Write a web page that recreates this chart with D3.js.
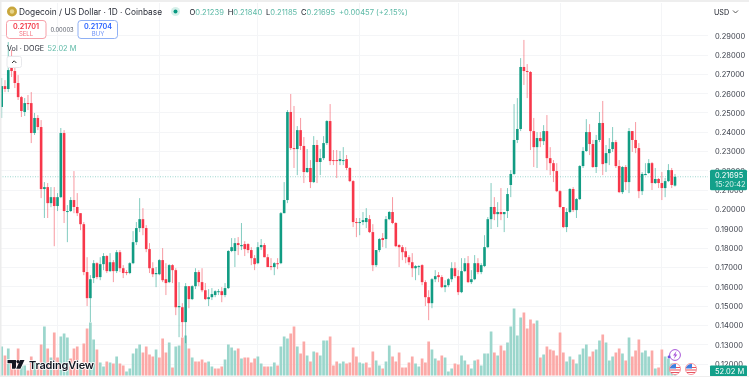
<!DOCTYPE html>
<html><head><meta charset="utf-8">
<script src="https://cdn.jsdelivr.net/npm/d3@7"></script>
<style>
html,body{margin:0;padding:0;background:#fff;overflow:hidden}
svg{display:block;font-family:Inter,"Liberation Sans",sans-serif;filter:blur(.35px)}
</style></head><body><svg id="c" width="749" height="377"></svg>
<script>
// Prices are in ten-thousandths of a dollar; volumes in millions of DOGE.
const opens=[2531,2639,2624,2733,2717,2655,2582,2505,2551,2551,2396,2474,2427,2106,2116,2033,2064,2018,2064,2396,1987,1992,2049,2013,1981,1924,1676,1541,1645,1722,1650,1717,1759,1681,1727,1681,1779,1696,1676,1671,1722,1831,1904,1950,1904,1795,1696,1665,1665,1738,1639,1624,1712,1686,1494,1494,1417,1603,1536,1603,1676,1624,1582,1536,1546,1557,1572,1577,1557,1593,1785,1785,1826,1810,1821,1821,1790,1748,1722,1805,1816,1753,1707,1702,1722,1722,1981,2049,2505,2318,2313,2411,2329,2194,2215,2142,2334,2246,2266,2344,2458,2256,2256,2251,2251,2261,2215,2147,1935,1930,1935,1935,1950,1883,1712,1790,1852,1847,1950,1987,1930,1816,1805,1784,1753,1727,1696,1702,1712,1624,1546,1515,1639,1660,1650,1598,1608,1639,1696,1655,1572,1681,1722,1624,1639,1722,1676,1707,1805,1950,2013,1976,1987,1976,1992,2127,2184,2360,2417,2738,2717,2712,2406,2323,2370,2354,2406,2266,2240,2199,2095,2013,1909,1987,2106,1997,2054,2225,2303,2401,2339,2220,2360,2448,2240,2292,2313,2349,2225,2090,2220,2142,2406,2360,2318,2095,2178,2189,2240,2137,2158,2137,2111,2147,2204,2123.9];
const closes=[2639,2624,2722,2717,2655,2582,2510,2551,2546,2396,2474,2427,2106,2116,2033,2064,2018,2064,2396,1992,1992,2049,2013,1981,1924,1676,1541,1639,1722,1650,1717,1759,1681,1727,1681,1779,1696,1671,1671,1722,1831,1904,1950,1904,1795,1696,1665,1671,1738,1634,1619,1712,1686,1494,1500,1417,1603,1536,1603,1676,1624,1582,1536,1546,1562,1577,1577,1557,1593,1785,1805,1826,1816,1816,1795,1790,1748,1717,1805,1816,1753,1702,1702,1722,1717,1981,2049,2505,2318,2313,2411,2329,2194,2215,2142,2334,2246,2266,2344,2458,2251,2251,2251,2261,2256,2215,2147,1935,1930,1935,1945,1956,1883,1712,1790,1847,1842,1950,1987,1930,1810,1805,1779,1753,1727,1696,1707,1707,1624,1546,1515,1639,1655,1650,1598,1608,1639,1696,1655,1572,1681,1722,1624,1639,1722,1676,1712,1805,1950,2013,1976,1987,1976,1987,2080,2184,2360,2417,2738,2717,2712,2406,2323,2370,2354,2406,2266,2240,2199,2095,2013,1909,1987,2106,1997,2054,2225,2303,2401,2339,2220,2360,2448,2235,2292,2313,2349,2225,2090,2220,2142,2406,2360,2318,2095,2184,2184,2240,2137,2158,2137,2111,2147,2204,2127,2169.5];
const highs=[2681,2670,2867,2826,2759,2696,2588,2577,2593,2608,2500,2489,2463,2142,2137,2116,2116,2085,2422,2411,2023,2064,2199,2085,1981,1935,1753,1660,1738,1727,1753,1774,1764,1774,1738,1790,1790,1712,1686,1727,1888,1935,2059,2007,1919,1826,1727,1702,1743,1800,1722,1717,1717,1696,1624,1515,1619,1603,1608,1696,1686,1696,1619,1588,1593,1582,1588,1598,1619,1790,1852,1852,1857,1930,1836,1826,1805,1764,1831,1847,1826,1769,1748,1727,1748,1987,2142,2515,2598,2536,2432,2474,2375,2313,2256,2380,2360,2313,2380,2463,2546,2308,2308,2303,2323,2282,2220,2152,1956,1956,1987,2007,1971,1924,1790,1852,1878,1966,1992,2064,1935,1821,1816,1805,1764,1774,1712,1712,1717,1634,1582,1645,1686,1676,1660,1634,1645,1727,1727,1686,1748,1748,1759,1686,1764,1748,1722,1867,1961,2137,2064,2038,2111,1987,2111,2204,2546,2577,2784,2878,2753,2717,2474,2401,2401,2437,2489,2323,2256,2240,2101,2013,2007,2111,2116,2059,2230,2323,2468,2442,2360,2386,2505,2562,2334,2370,2427,2360,2256,2225,2230,2422,2406,2453,2344,2194,2240,2261,2246,2215,2163,2194,2163,2235,2215,2184];
const lows=[2474,2608,2608,2686,2629,2567,2479,2484,2515,2344,2386,2411,2059,1956,1956,2012,1810,1992,2059,1930,1831,1987,1981,1966,1893,1660,1500,1417,1619,1639,1634,1686,1671,1676,1624,1671,1676,1645,1660,1665,1717,1816,1883,1867,1779,1671,1650,1598,1660,1624,1557,1619,1619,1453,1339,1339,1308,1489,1531,1588,1603,1572,1531,1500,1531,1546,1557,1520,1546,1588,1779,1702,1764,1790,1759,1774,1712,1686,1717,1790,1753,1702,1686,1660,1691,1717,1981,2033,2308,2215,2178,2308,2137,2189,2111,2137,2137,2178,2256,2334,2230,2230,2163,2230,2230,2204,2142,1909,1857,1867,1919,1904,1878,1681,1702,1779,1805,1800,1945,1924,1805,1702,1738,1722,1712,1650,1634,1660,1608,1500,1427,1489,1624,1624,1593,1572,1598,1624,1645,1557,1567,1676,1619,1614,1634,1665,1665,1702,1800,1899,1945,1909,1945,1883,1956,2064,2178,2344,2406,2645,2577,2308,2220,2215,2323,2334,2204,2178,2142,2090,2007,1904,1883,1981,1987,1956,2049,2215,2298,2282,2215,2189,2349,2178,2194,2230,2298,2215,2085,2080,2101,2085,2298,2292,2059,2075,2178,2184,2101,2132,2111,2049,2064,2142,2111,2118.5];
const volumes=[290,200,270,150,130,270,110,100,50,190,150,100,310,490,270,180,430,180,390,420,380,170,270,290,120,320,470,530,360,260,130,90,140,130,120,190,120,100,40,70,220,270,310,230,290,210,190,260,180,370,230,330,80,290,300,380,400,270,180,140,140,160,130,140,90,70,70,90,160,310,280,250,270,170,180,180,
130,170,190,120,90,90,90,130,100,290,390,370,420,490,290,220,340,200,140,240,230,200,350,350,390,100,140,120,140,120,130,280,190,130,120,130,80,240,150,100,70,140,300,190,140,230,80,80,130,190,120,90,170,130,340,260,170,150,200,180,40,70,120,110,200,150,110,70,150,160,100,220,220,440,230,200,
300,250,330,490,670,400,580,630,470,560,520,550,180,210,290,260,250,200,430,230,140,190,160,120,210,270,310,190,240,260,350,410,330,150,190,230,270,220,150,380,190,250,360,230,250,190,250,70,80,260,190,170,120,52.02];
const volumeUp=[1,0,1,0,0,0,1,1,0,0,1,0,0,1,0,1,0,0,1,1,1,0,0,0,1,0,0,1,1,0,1,1,0,1,0,1,0,0,1,1,1,1,1,0,0,0,0,1,0,0,0,1,0,1,1,0,1,0,1,0,0,0,0,1,1,0,0,0,1,1,1,1,0,1,0,0,
0,0,1,1,0,0,1,1,0,1,1,1,0,0,1,0,0,1,0,1,0,1,1,1,0,0,0,1,1,0,0,0,0,1,1,0,0,0,1,1,0,1,1,0,0,0,0,0,0,0,1,1,0,0,0,1,1,0,0,1,1,1,0,0,1,1,0,1,1,0,1,1,1,1,0,1,
0,0,1,1,1,1,1,0,0,0,0,1,0,1,0,0,0,0,0,0,1,1,0,1,1,1,1,0,0,1,1,0,1,1,1,0,0,1,0,1,0,0,0,1,1,1,0,1,0,0,1,1,1,1];
const priceTicks=[0.29,0.28,0.27,0.26,0.25,0.24,0.23,0.22,0.21,0.20,0.19,0.18,0.17,0.16,0.15,0.14,0.13,0.12];
const monthStarts=[17,48,78,109,139,170,201];
const ohlcLabels=["O","H","L","C"];
const ohlcValues=["0.21239","0.21840","0.21185","0.21695"];
const changeText="+0.00457 (+2.15%)";
const lastPrice=0.21695, lastVolume=52.02;

const UP="#089981",DOWN="#f23645",UPV="#9bd6cc",DOWNV="#fba9a7",TXT="#131722",VAL="#5cb9a6";
const svg=d3.select("#c");
const x=d3.scaleLinear().domain([0,205]).range([1.7,675]);
const y=d3.scaleLinear().domain([0.29,0.12]).range([35.7,364]);
const yv=d3.scaleLinear().domain([0,700]).range([375.5,305.5]);
const candles=d3.range(opens.length).map(i=>({i,o:opens[i]/1e4,h:highs[i]/1e4,l:lows[i]/1e4,c:closes[i]/1e4,up:closes[i]>=opens[i]}));

svg.append("rect").attr("width",749).attr("height",377).attr("fill","#fff");
const grid=svg.append("g").attr("stroke","#f4f5f7").attr("stroke-width",1).attr("shape-rendering","crispEdges");
grid.selectAll(".h").data(priceTicks).join("line").attr("x1",0).attr("x2",708).attr("y1",d=>y(d)).attr("y2",d=>y(d));
grid.selectAll(".v").data(monthStarts).join("line").attr("x1",d=>x(d)).attr("x2",d=>x(d)).attr("y1",3).attr("y2",377);

svg.append("g").selectAll("rect").data(volumes).join("rect")
 .attr("x",(d,i)=>x(i)-1.35).attr("width",2.7).attr("y",d=>yv(d)).attr("height",d=>yv(0)-yv(d))
 .attr("fill",(d,i)=>volumeUp[i]?UPV:DOWNV);

svg.append("line").attr("x1",0).attr("x2",708).attr("y1",y(lastPrice)).attr("y2",y(lastPrice))
 .attr("stroke","#089981").attr("stroke-opacity",.4).attr("stroke-dasharray","1 1.5");

const cg=svg.append("g");
cg.selectAll("line").data(candles).join("line")
 .attr("x1",d=>x(d.i)).attr("x2",d=>x(d.i)).attr("y1",d=>y(d.h)).attr("y2",d=>y(d.l))
 .attr("stroke",d=>d.up?UP:DOWN).attr("stroke-width",1).attr("stroke-opacity",.5);
cg.selectAll("rect").data(candles).join("rect")
 .attr("x",d=>x(d.i)-1.3).attr("width",2.6)
 .attr("y",d=>y(Math.max(d.o,d.c))).attr("height",d=>Math.max(1,y(Math.min(d.o,d.c))-y(Math.max(d.o,d.c))))
 .attr("fill",d=>d.up?"#119c83":"#f7374a");

const axis=d3.axisRight(y).tickValues(priceTicks).tickSize(0).tickPadding(0).tickFormat(d3.format(".5f"));
const ag=svg.append("g").attr("transform","translate(715,0)").call(axis);
ag.select(".domain").remove();
ag.selectAll("text").attr("font-size",7.5).attr("font-family","Inter,sans-serif").attr("fill","#3b3f4a");

svg.append("rect").attr("x",710).attr("y",y(lastPrice)-7).attr("width",37).attr("height",20.5).attr("rx",1.5).attr("fill","#13a08a");
const t=(s,xx,yy,size,fill,extra={})=>{const e=svg.append("text").attr("x",xx).attr("y",yy).attr("font-size",size).attr("fill",fill).text(s);
 Object.entries(extra).forEach(([k,v])=>e.attr(k,v));return e;};
t(d3.format(".5f")(lastPrice),715,y(lastPrice)+1.2,7.5,"#fff");
t("15:20:42",715,y(lastPrice)+10.2,7.5,"#d4f0ea");
svg.append("rect").attr("x",710).attr("y",365.5).attr("width",37).attr("height",11).attr("rx",1).attr("fill","#13a08a");
t(lastVolume+" M",715,373.6,7.5,"#fff");

svg.append("rect").attr("width",749).attr("height",2).attr("fill","#eeeeee");
svg.append("rect").attr("width",1.5).attr("height",377).attr("fill","#ececec");
svg.append("rect").attr("y",376).attr("width",749).attr("height",1).attr("fill","#eeeeee");
svg.append("circle").attr("cx",12).attr("cy",11.5).attr("r",5).attr("fill","#c9a73d");
svg.append("circle").attr("cx",12).attr("cy",11.5).attr("r",2.2).attr("fill","#e6d48c");
t("Dogecoin / US Dollar · 1D · Coinbase",19,15,8.35,"#2a2e39");
svg.append("circle").attr("cx",175.5).attr("cy",11.5).attr("r",4.5).attr("fill","#d6f0ea");
svg.append("circle").attr("cx",175.5).attr("cy",11.5).attr("r",2).attr("fill","#089981");
const ohlc=svg.append("text").attr("x",189.5).attr("y",15).attr("font-size",7.6);
ohlcLabels.forEach((l,i)=>{ohlc.append("tspan").attr("fill",TXT).text(l);ohlc.append("tspan").attr("fill",VAL).text(ohlcValues[i]+"\u2002");});
ohlc.append("tspan").attr("fill",VAL).text(changeText);

svg.append("rect").attr("x",6.5).attr("y",20.5).attr("width",39.5).attr("height",18).attr("rx",3).attr("fill","#fff").attr("stroke","#f7a0a8");
t("0.21701",26,28.5,7.2,"#f23645",{"text-anchor":"middle","font-weight":600});
t("SELL",26,36,6,"#f4737f",{"text-anchor":"middle"});
t("0.00003",62,32,5.8,"#555a66",{"text-anchor":"middle"});
svg.append("rect").attr("x",78).attr("y",20.5).attr("width",39.5).attr("height",18).attr("rx",3).attr("fill","#fff").attr("stroke","#8fb0f5");
t("0.21704",98,28.5,7.2,"#2962ff",{"text-anchor":"middle","font-weight":600});
t("BUY",98,36,6,"#6e93f7",{"text-anchor":"middle"});
t("Vol · DOGE",7,50.5,7.2,"#2a2e39");
t("52.02 M",47.5,50.5,7.4,VAL);
svg.append("rect").attr("x",7).attr("y",56.5).attr("width",14.5).attr("height",11).attr("rx",2).attr("fill","#fff").attr("stroke","#e8e9ec");
svg.append("path").attr("d","M12 63 L14.2 60.8 L16.4 63").attr("fill","none").attr("stroke","#333").attr("stroke-width",1);
t("USD",714,15,7.2,"#131722");
svg.append("path").attr("d","M733 10.5 L735.5 13 L738 10.5").attr("fill","none").attr("stroke","#444").attr("stroke-width",.9);

svg.append("circle").attr("cx",675).attr("cy",355).attr("r",5.4).attr("fill","#fff").attr("stroke","#a855d8").attr("stroke-width",1);
svg.append("path").attr("d","M676.5 351 L673 355.5 L675 355.5 L673.8 359 L677.4 354.4 L675.4 354.4 Z").attr("fill","#a855d8");
svg.append("circle").attr("cx",669).attr("cy",357).attr("r",1.4).attr("fill","#6a55e0");
[675,691].forEach(cx=>{
 svg.append("circle").attr("cx",cx).attr("cy",369).attr("r",5.6).attr("fill","#fff").attr("stroke","#f2858f").attr("stroke-width",.8);
 svg.append("path").attr("d",`M${cx-5} 367.5 H${cx+5} M${cx-5} 370 H${cx+5} M${cx-4} 372.5 H${cx+4}`).attr("stroke","#e8525f").attr("stroke-width",1.1);
 svg.append("path").attr("d",`M${cx-5} 368.5 A5.2 5.2 0 0 1 ${cx+1} 364 L${cx+1} 368.5 Z`).attr("fill","#3f7fe0");
});

// logo with a white halo
const logoParts=["M7.5 360 H16 V368.8 H12 V363.2 H7.5 Z","M20 360 H24.5 L20.4 368.8 H16.2 Z"];
svg.append("g").selectAll("path").data(logoParts).join("path").attr("d",d=>d).attr("fill",TXT)
 .attr("stroke","#fff").attr("stroke-width",1.6).attr("paint-order","stroke");
svg.append("circle").attr("cx",18).attr("cy",361.6).attr("r",1.6).attr("fill",TXT);
t("TradingView",29,368.8,11,TXT,{"font-weight":600,"letter-spacing":"-0.2","stroke":"#fff","stroke-width":1.6,"paint-order":"stroke"});
</script></body></html>
